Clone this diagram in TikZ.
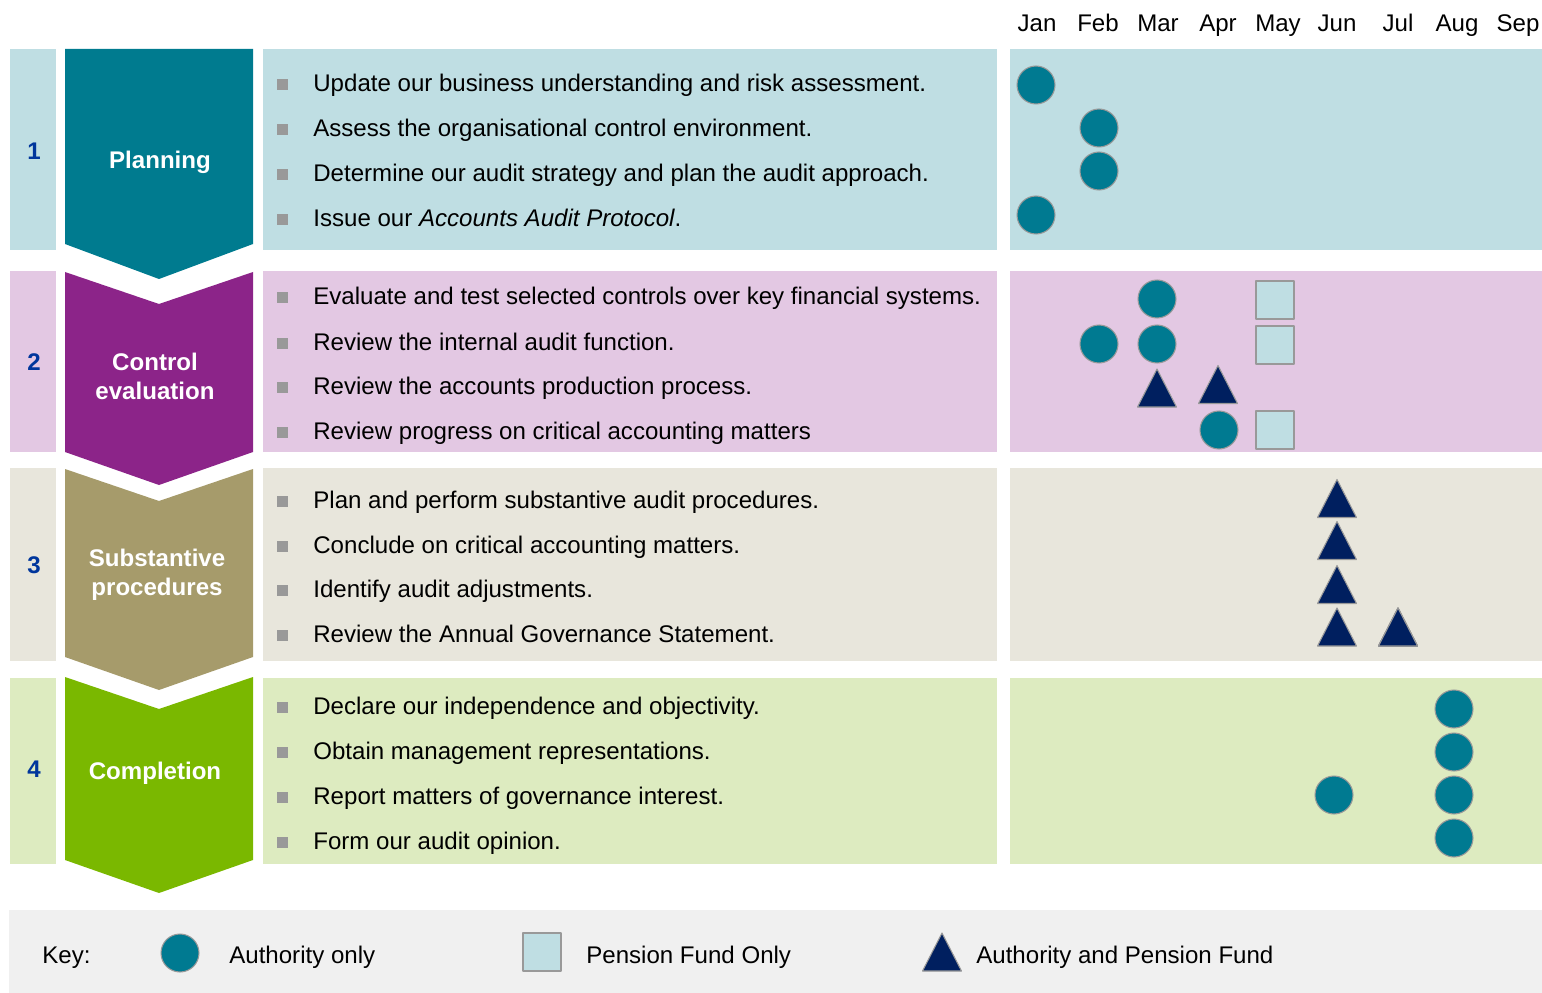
\documentclass[tikz,border=0pt]{standalone}
\usepackage{fontspec}
\setmainfont{Liberation Sans}
\definecolor{rowA}{HTML}{BFDEE3}
\definecolor{rowB}{HTML}{E3C8E3}
\definecolor{rowC}{HTML}{E8E6DC}
\definecolor{rowD}{HTML}{DDEBC0}
\definecolor{planteal}{HTML}{007B8F}
\definecolor{ctrlpurple}{HTML}{8C2489}
\definecolor{subolive}{HTML}{A69B6B}
\definecolor{complgreen}{HTML}{7AB800}
\definecolor{mkteal}{HTML}{007A91}
\definecolor{mknavy}{HTML}{001F5F}
\definecolor{numblue}{HTML}{00369C}
\definecolor{bulletgrey}{HTML}{999999}
\definecolor{keygrey}{HTML}{F0F0F0}
\tikzset{
  stagelbl/.style={text=white, font=\fontsize{13.7}{16.5}\selectfont\bfseries, align=center, inner sep=0pt},
  numlbl/.style={text=numblue, font=\fontsize{13.7}{16.5}\selectfont\bfseries, inner sep=0pt},
  item/.style={anchor=base west, inner sep=0pt},
  month/.style={anchor=base, inner sep=0pt},
  auth/.style={circle, fill=mkteal, draw=gray!80, line width=0.6pt, minimum size=0.76cm, inner sep=0pt},
  pens/.style={rectangle, fill=rowA, draw=gray!80, line width=0.6pt, minimum size=0.76cm, inner sep=0pt},
  both/.style={fill=mknavy, draw=gray!80, line width=0.6pt},
}
\newcommand{\bothmark}[2]{\draw[both] (#1,#2) ++(-19.5,19) -- ++(39,0) -- ++(-19.5,-38) -- cycle;}
\begin{document}
\begin{tikzpicture}[x=0.02cm, y=-0.02cm, font=\fontsize{13.7}{16.5}\selectfont, line join=round]
	\useasboundingbox (0,0) rectangle (1542,993);
	% bands of the four rows
	\foreach \ta/\tb/\lite in {49/250/rowA, 271/452/rowB, 468/661/rowC, 678/864/rowD} {
		\fill[\lite] (10,\ta) rectangle (56,\tb);
		\fill[\lite] (263,\ta) rectangle (997,\tb);
		\fill[\lite] (1010,\ta) rectangle (1542,\tb);
	}
	\foreach \y/\n in {151/1, 362/2, 565/3, 769/4} \node[numlbl] (num\n) at (34,\y) {\n};
	% chevrons
	\fill[planteal] (65,49) -- (253,49) -- (253,244) -- (159,279) -- (65,244) -- cycle;
	\foreach \ta/\tb/\col in {272/452/ctrlpurple, 469/657/subolive, 677/860/complgreen}
		\fill[\col] (65,\ta) -- (159,\ta+32) -- (253,\ta) -- (253,\tb) -- (159,\tb+33) -- (65,\tb) -- cycle;
	\node[stagelbl] (planning) at (160,162) {Planning};
	\node[stagelbl] (control) at (155,376) {Control\\evaluation};
	\node[stagelbl] (subst) at (157,575) {Substantive\\procedures};
	\node[stagelbl] (complete) at (155,773) {Completion};
	% activities
	\foreach \y/\txt [count=\i] in {92/Update our business understanding and risk assessment.,
		137/Assess the organisational control environment.,
		182/Determine our audit strategy and plan the audit approach.,
		227/Issue our {\itshape Accounts Audit Protocol}.,
		305/Evaluate and test selected controls over key financial systems.,
		350/Review the internal audit function.,
		394/Review the accounts production process.,
		439/Review progress on critical accounting matters,
		508/Plan and perform substantive audit procedures.,
		553/Conclude on critical accounting matters.,
		597/Identify audit adjustments.,
		642/Review the Annual Governance Statement.,
		714/Declare our independence and objectivity.,
		759/Obtain management representations.,
		804/Report matters of governance interest.,
		849/Form our audit opinion.} {
		\fill[bulletgrey] (277,\y-12.5) rectangle (288,\y-1.5);
		\node[item] (act\i) at (313,\y) {\txt};
	}
	% timeline
	\foreach \x/\m in {1037/Jan, 1098/Feb, 1158/Mar, 1218/Apr, 1278/May, 1337/Jun, 1398/Jul, 1457/Aug, 1518/Sep}
		\node[month] (m\m) at (\x,32) {\m};
	\foreach \x/\y [count=\i] in {1036/85, 1099/128, 1099/171, 1036/215, 1157/299, 1099/344, 1157/344, 1219/430,
		1334/795, 1454/709, 1454/752, 1454/795, 1454/838}
		\node[auth] (auth\i) at (\x,\y) {};
	\foreach \y [count=\i] in {300, 345, 430} \node[pens] (pens\i) at (1275,\y) {};
	\bothmark{1157}{388}
	\bothmark{1218}{384.5}
	\foreach \y in {498.5, 540.5, 584.5, 627} \bothmark{1337}{\y}
	\bothmark{1398}{627}
	% key
	\fill[keygrey] (9,910) rectangle (1542,993);
	\node[item] (key) at (42,963) {Key:};
	\node[auth] (keyauth) at (180,953) {};
	\node[item] (keyauthtxt) at (229,963) {Authority only};
	\node[pens] (keypens) at (542,952) {};
	\node[item] (keypenstxt) at (586,963) {Pension Fund Only};
	\bothmark{942}{952}
	\node[item] (keybothtxt) at (976,963) {Authority and Pension Fund};
\end{tikzpicture}
\end{document}
